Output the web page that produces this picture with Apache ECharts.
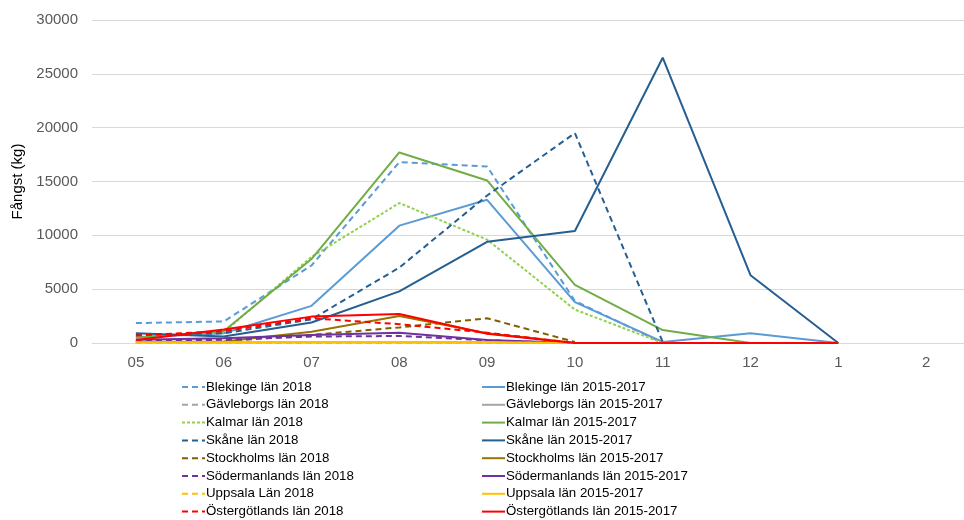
<!DOCTYPE html>
<html>
<head>
<meta charset="utf-8">
<script src="https://cdn.jsdelivr.net/npm/echarts@6/dist/echarts.min.js"></script>
<style>
  html, body { margin: 0; padding: 0; background: #fff; overflow: hidden; }
  #chart { width: 972px; height: 520px; }
</style>
</head>
<body>
<div id="chart"></div>
<script>
// månader (x-axel)
const months = ['05', '06', '07', '08', '09', '10', '11', '12', '1', '2']

// fångst i kg per län, 2018 och medel 2015-2017
const blekinge2018 = [1850, 2000, 7200, 16800, 16400, 3900, 0]
const blekinge1517 = [500, 900, 3450, 10900, 13300, 3800, 100, 900, 0]
const gavleborg2018 = [50, 50, 50, 50, 50, 0]
const gavleborg1517 = [60, 60, 60, 60, 60, 0]
const kalmar2018 = [550, 1000, 8000, 13000, 9600, 3100, 0]
const kalmar1517 = [500, 1100, 7800, 17700, 15100, 5400, 1200, 0]
const skane2018 = [800, 900, 2200, 7000, 13700, 19500, 100]
const skane1517 = [900, 600, 1900, 4800, 9400, 10400, 26500, 6300, 0]
const stockholm2018 = [100, 150, 750, 1450, 2300, 100]
const stockholm1517 = [100, 150, 1050, 2500, 900, 0]
const sodermanland2018 = [200, 300, 600, 650, 250, 0]
const sodermanland1517 = [300, 430, 750, 950, 280, 0]
const uppsala2018 = [40, 40, 40, 40, 40, 0]
const uppsala1517 = [80, 80, 100, 100, 80, 0]
const ostergotland2018 = [700, 1100, 2300, 1750, 950, 0]
const ostergotland1517 = [280, 1250, 2450, 2700, 850, 0, 0, 0, 0]

const dash = [6, 4]
const dot = [3, 2]

function line(name, data, color, type) {
  return {
    name: name,
    type: 'line',
    data: data,
    symbol: 'none',
    silent: true,
    lineStyle: { color: color, width: 2, type: type || 'solid' },
    itemStyle: { color: color }
  }
}

const series = [
  line('Blekinge län 2018', blekinge2018, '#5B9BD5', dash),
  line('Blekinge län 2015-2017', blekinge1517, '#5B9BD5'),
  line('Gävleborgs län 2018', gavleborg2018, '#A5A5A5', dash),
  line('Gävleborgs län 2015-2017', gavleborg1517, '#A5A5A5'),
  line('Kalmar län 2018', kalmar2018, '#92D050', dot),
  line('Kalmar län 2015-2017', kalmar1517, '#70AD47'),
  line('Skåne län 2018', skane2018, '#255E91', dash),
  line('Skåne län 2015-2017', skane1517, '#255E91'),
  line('Stockholms län 2018', stockholm2018, '#7F6000', dash),
  line('Stockholms län 2015-2017', stockholm1517, '#997300'),
  line('Södermanlands län 2018', sodermanland2018, '#7030A0', dash),
  line('Södermanlands län 2015-2017', sodermanland1517, '#7030A0'),
  line('Uppsala Län 2018', uppsala2018, '#FFC000', dash),
  line('Uppsala län 2015-2017', uppsala1517, '#FFC000'),
  line('Östergötlands län 2018', ostergotland2018, '#FF0000', dash),
  line('Östergötlands län 2015-2017', ostergotland1517, '#FF0000')
]

const legendBase = {
  orient: 'vertical',
  top: 380,
  height: 140,
  padding: 0,
  itemWidth: 23,
  itemHeight: 14,
  itemGap: 3.8,
  selectedMode: false,
  itemStyle: { opacity: 0 },
  textStyle: { fontFamily: 'Liberation Sans', fontSize: 13.3, lineHeight: 14, color: '#000', padding: [0, 0, 0, -4] }
}

// diagrammet är lite bredare än fönstret, precis som originalet där rutnätet fortsätter utanför bilden
const chart = echarts.init(document.getElementById('chart'))
chart.setOption({
  animation: false,
  textStyle: { fontFamily: 'Liberation Sans' },
  grid: { left: 92, right: 2, top: 20, bottom: 177 },
  legend: [
    Object.assign({ left: 181, data: series.filter((s, i) => i % 2 === 0).map(s => s.name) }, legendBase),
    Object.assign({ left: 481, data: series.filter((s, i) => i % 2 === 1).map(s => s.name) }, legendBase)
  ],
  xAxis: {
    type: 'category',
    data: months,
    boundaryGap: true,
    axisLine: { lineStyle: { color: '#D9D9D9', width: 1 } },
    axisTick: { show: false },
    axisLabel: { color: '#595959', fontSize: 15, margin: 12 }
  },
  yAxis: {
    type: 'value',
    min: 0,
    max: 30000,
    interval: 5000,
    name: 'Fångst (kg)',
    nameLocation: 'middle',
    nameGap: 62,
    nameTextStyle: { color: '#000', fontSize: 15 },
    axisLine: { show: false },
    axisTick: { show: false },
    axisLabel: { color: '#595959', fontSize: 15, margin: 14, formatter: v => String(v) },
    splitLine: { lineStyle: { color: '#D9D9D9', width: 1 } }
  },
  series: series
})
</script>
</body>
</html>
